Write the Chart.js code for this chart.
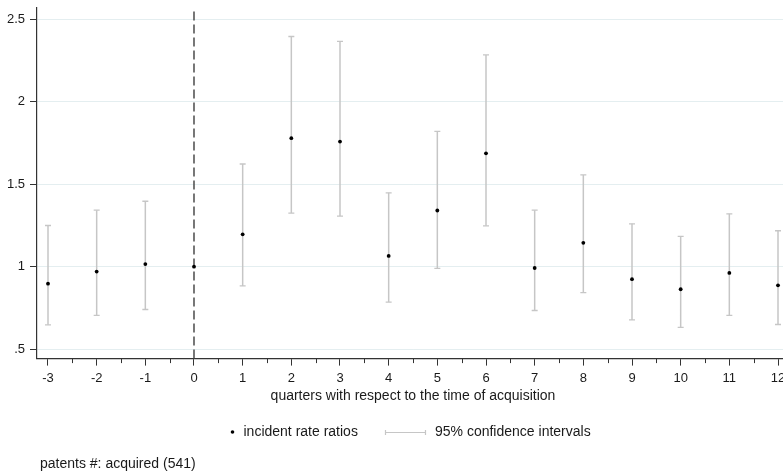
<!DOCTYPE html>
<html><head><meta charset="utf-8">
<script src="https://cdn.jsdelivr.net/npm/chart.js@4/dist/chart.umd.min.js"></script>
<style>
html,body{margin:0;padding:0;overflow:hidden;background:#fff;width:783px;height:474px}
#wrap{position:absolute;left:0;top:0;width:800px;height:474px}
</style></head><body>
<div id="wrap"><canvas id="c" width="800" height="474"></canvas></div>
<script>
// ---- data ----
const quarters = [-3,-2,-1,0,1,2,3,4,5,6,7,8,9,10,11,12];
const irr      = [0.897,0.970,1.016,1.000,1.196,1.780,1.759,1.065,1.341,1.688,0.992,1.145,0.924,0.863,0.962,0.887];
const ciLow    = [0.647,0.704,0.740,null,0.883,1.325,1.307,0.785,0.990,1.248,0.734,0.843,0.677,0.631,0.704,0.649];
const ciHigh   = [1.250,1.343,1.397,null,1.623,2.397,2.367,1.448,1.821,2.285,1.343,1.557,1.260,1.184,1.321,1.218];
const yTickValues = [0.5,1,1.5,2,2.5];
const yTickLabels = ['.5','1','1.5','2','2.5'];
const minorTicks  = [-2.5,-1.5,-0.5,0.5,1.5,2.5,3.5,4.5,5.5,6.5,7.5,8.5,9.5,10.5,11.5];
const eventQuarter = 0;
const xRange = [-3.226, 12.226];
const yRange = [0.442, 2.57];
const xTitle = 'quarters with respect to the time of acquisition';
const legendLabels = ['incident rate ratios','95% confidence intervals'];
const noteText = 'patents #: acquired (541)';

// ---- derived datasets ----
const pointData = quarters.map((q,i)=>({x:q,y:irr[i]}));
const ciLineData = [];
const capData = [];
quarters.forEach((q,i)=>{
  if (ciLow[i]==null || ciHigh[i]==null) return;
  ciLineData.push({x:q,y:ciLow[i]},{x:q,y:ciHigh[i]},{x:q,y:null});
  capData.push({x:q,y:ciLow[i]},{x:q,y:ciHigh[i]});
});
const vlineData = [{x:eventQuarter,y:yRange[0]},{x:eventQuarter,y:yRange[1]}];

const FONT = '"Liberation Sans", Arial, Helvetica, sans-serif';
const CI_COLOR = '#c6c6c6';

const extras = {
  id:'extras',
  afterDraw(chart){
    const ctx = chart.ctx, xs = chart.scales.x;
    ctx.save();
    // minor ticks
    ctx.strokeStyle = '#333'; ctx.lineWidth = 1;
    minorTicks.forEach(v=>{
      const px = Math.round(xs.getPixelForValue(v)) + 0.5;
      ctx.beginPath(); ctx.moveTo(px, xs.top); ctx.lineTo(px, xs.top + 4.5); ctx.stroke();
    });
    // legend
    const ly = 432;
    ctx.fillStyle = '#000';
    ctx.beginPath(); ctx.arc(232.5, ly, 1.8, 0, Math.PI*2); ctx.fill();
    ctx.font = '14px ' + FONT; ctx.textBaseline = 'middle'; ctx.textAlign = 'left';
    ctx.fillStyle = '#1a1a1a';
    ctx.fillText(legendLabels[0], 243.5, ly);
    ctx.strokeStyle = CI_COLOR; ctx.lineWidth = 1.2;
    ctx.beginPath(); ctx.moveTo(385, ly+0.5); ctx.lineTo(426, ly+0.5); ctx.stroke();
    ctx.beginPath(); ctx.moveTo(385.5, ly-2); ctx.lineTo(385.5, ly+3); ctx.moveTo(425.5, ly-2); ctx.lineTo(425.5, ly+3); ctx.stroke();
    ctx.fillStyle = '#1a1a1a';
    ctx.fillText(legendLabels[1], 435, ly);
    // note
    ctx.fillText(noteText, 40, 464);
    ctx.restore();
  }
};

new Chart(document.getElementById('c'), {
  type: 'scatter',
  data: {
    datasets: [
      { label: legendLabels[0], data: pointData, pointRadius: 1.9, pointBackgroundColor: '#000', pointBorderWidth: 0, showLine: false, order: 0 },
      { label: 'ci', data: ciLineData, showLine: true, spanGaps: false, borderColor: CI_COLOR, borderWidth: 1.5, pointRadius: 0, order: 1 },
      { label: 'caps', data: capData, showLine: false, pointStyle: 'line', pointRadius: 3, borderColor: CI_COLOR, pointBorderColor: CI_COLOR, pointBorderWidth: 1.3, order: 1 },
      { label: 'event', data: vlineData, showLine: true, borderColor: '#4a4a4a', borderWidth: 1.5, borderDash: [9,4], pointRadius: 0, order: 2 }
    ]
  },
  options: {
    responsive: false,
    devicePixelRatio: 1,
    animation: false,
    events: [],
    layout: { padding: { left: 0, top: 8, right: 11, bottom: 69 } },
    plugins: { legend: { display: false }, tooltip: { enabled: false } },
    scales: {
      x: {
        type: 'linear', min: xRange[0], max: xRange[1],
        afterBuildTicks: s => { s.ticks = quarters.map(v=>({value:v})); },
        afterFit: s => { s.height = 46.4; },
        ticks: { padding: 5, color: '#1a1a1a', font: { family: FONT, size: 13 }, maxRotation: 0, autoSkip: false, callback: v => String(v) },
        grid: { drawOnChartArea: false, drawTicks: true, tickLength: 7, tickColor: '#333', tickWidth: 1 },
        border: { display: true, color: '#333', width: 1.2 },
        title: { display: true, text: xTitle, color: '#1a1a1a', font: { family: FONT, size: 14 }, padding: { top: 0, bottom: 0 } }
      },
      y: {
        type: 'linear', min: yRange[0], max: yRange[1],
        afterBuildTicks: s => { s.ticks = yTickValues.map(v=>({value:v})); },
        afterFit: s => { s.width = 37; s.paddingTop = 0; s.paddingBottom = 0; },
        ticks: { padding: 5, color: '#1a1a1a', font: { family: FONT, size: 13 }, callback: v => yTickLabels[yTickValues.indexOf(v)] },
        grid: { color: '#e4eef0', lineWidth: 1, drawTicks: true, tickLength: 7, tickColor: '#333', tickWidth: 1 },
        border: { display: true, color: '#333', width: 1.2 }
      }
    }
  },
  plugins: [extras]
});
</script>
</body></html>
